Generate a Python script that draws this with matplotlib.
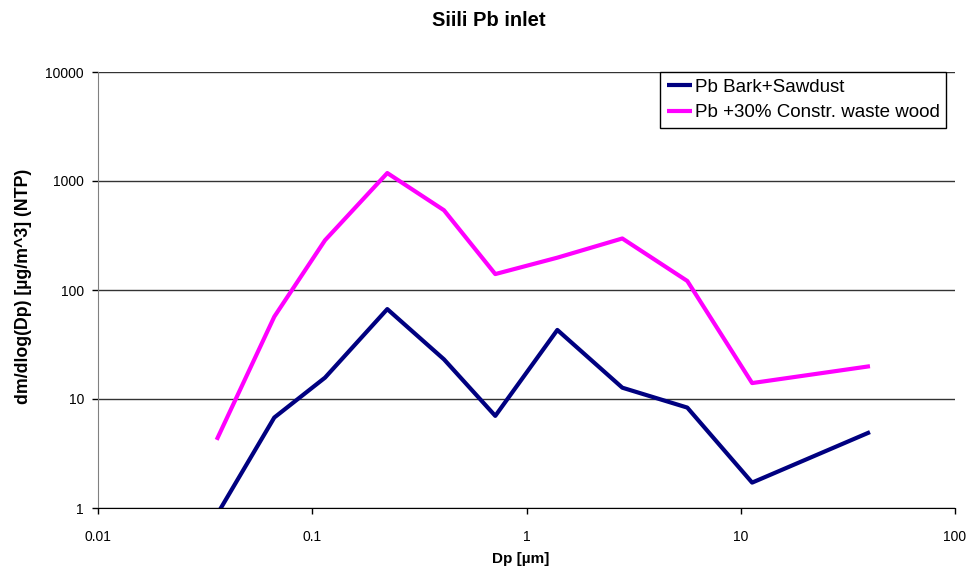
import matplotlib.pyplot as plt
from matplotlib.ticker import FuncFormatter, NullLocator

plt.rcParams['font.family'] = ['Liberation Sans', 'DejaVu Sans']

# Particle diameter (um) and mass size distributions
dp = [0.0358, 0.0665, 0.1147, 0.224, 0.412, 0.715, 1.393, 2.80, 5.63, 11.3, 40.1]
pb_bark = [0.86, 6.76, 15.7, 66.8, 23.1, 7.0, 43.0, 12.7, 8.34, 1.71, 4.97]
pb_waste = [4.22, 56.9, 286, 1183, 539, 140, 198, 297, 121, 14.0, 20.0]

yticks = [1, 10, 100, 1000, 10000]
xticks = [0.01, 0.1, 1, 10, 100]

W, H = 973, 573
fig = plt.figure(figsize=(W / 100, H / 100), dpi=100)
ax = fig.add_axes([98 / W, 1 - 508 / H, (955 - 98) / W, (508 - 72) / H])

ax.plot(dp, pb_bark, color='#000080', lw=3, label='Pb Bark+Sawdust', solid_capstyle='butt')
ax.plot(dp, pb_waste, color='#FF00FF', lw=3, label='Pb +30% Constr. waste wood', solid_capstyle='butt')

ax.set_xscale('log')
ax.set_yscale('log')
ax.set_xlim(0.01, 100)
ax.set_ylim(1, 10000)
ax.set_xticks(xticks)
ax.set_yticks(yticks)
ax.xaxis.set_minor_locator(NullLocator())
ax.yaxis.set_minor_locator(NullLocator())
fmt = FuncFormatter(lambda v, p: ('%g' % v))
ax.xaxis.set_major_formatter(fmt)
ax.yaxis.set_major_formatter(fmt)
ax.tick_params(labelsize=10, length=4, width=1, direction='out', pad=6)
ax.tick_params(axis='x', pad=12)

ax.yaxis.grid(True, color='#333333', lw=1)
ax.set_axisbelow(True)
for s in ['top', 'right']:
    ax.spines[s].set_visible(False)
ax.spines['left'].set_color('#808080')
ax.spines['bottom'].set_color('black')

# titles placed in figure pixels
fig.text(489 / W, 1 - 26 / H, 'Siili Pb inlet', fontsize=14.5, fontweight='bold',
         ha='center', va='baseline')
fig.text(521 / W, 1 - 559 / H, 'Dp [µm]', fontsize=11, fontweight='bold',
         ha='center', va='center')
fig.text(24 / W, 1 - 286 / H, 'dm/dlog(Dp) [µg/m^3] (NTP)', fontsize=12.8,
         fontweight='bold', rotation=90, ha='center', va='center')

leg = ax.legend(loc='upper right', bbox_to_anchor=(946 / W, 1 - 72 / H),
                bbox_transform=fig.transFigure, fontsize=13.5,
                frameon=True, fancybox=False, edgecolor='black', framealpha=1,
                handlelength=1.35, handletextpad=0.12, borderpad=0.35, labelspacing=0.45,
                borderaxespad=0)
leg.get_frame().set_linewidth(1)

fig.savefig('out.png', dpi=100)
